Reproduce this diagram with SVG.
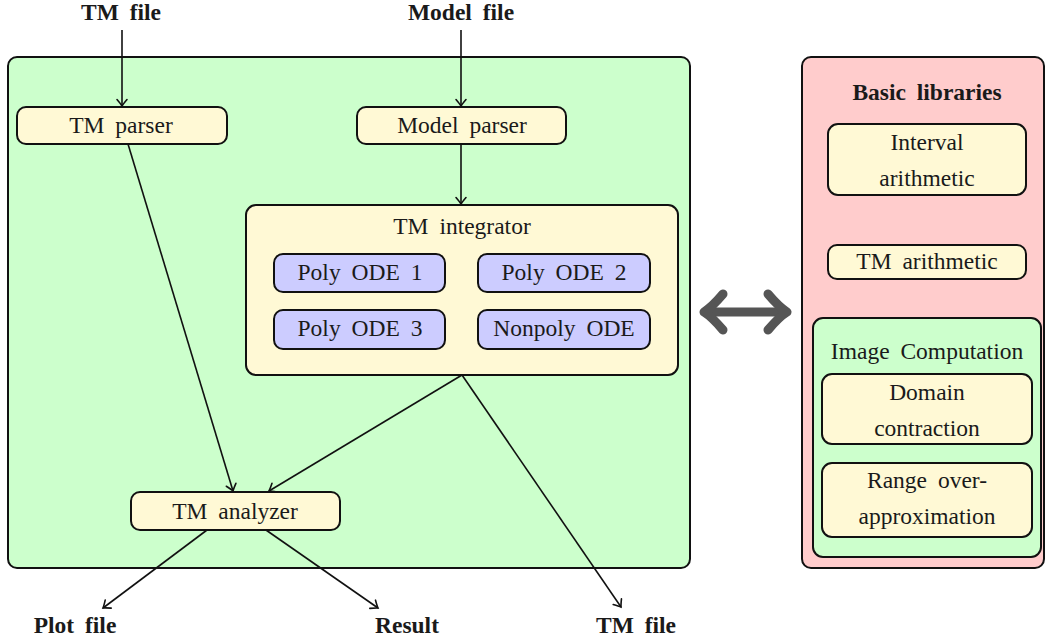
<svg xmlns="http://www.w3.org/2000/svg" width="1046" height="641" viewBox="0 0 1046 641">
<defs>
<style>
text{font-family:"Liberation Serif","DejaVu Serif",serif;font-size:23.5px;fill:#1a1a1a;text-anchor:middle;word-spacing:5px}
.b{font-weight:bold}
.box{stroke:#111;stroke-width:2}
.green{fill:#ccffcc}
.yellow{fill:#fff9d5}
.blue{fill:#ccccff}
.pink{fill:#ffcccc}
.conn{stroke:#111;stroke-width:1.6;fill:none;marker-end:url(#arr)}
</style>
<marker id="arr" markerUnits="userSpaceOnUse" markerWidth="14" markerHeight="14" viewBox="-8 -7 10 14" refX="0" refY="0" orient="auto">
<path d="M-6.5,-5 Q-2,-1.2 0,0 Q-2,1.2 -6.5,5" fill="none" stroke="#111" stroke-width="1.6" stroke-linecap="round"/>
</marker>
</defs>

<g font-family="Liberation Serif, DejaVu Serif, serif">
<g id="main-block">
<rect class="box green" x="8" y="57" width="682" height="511" rx="9"/>
</g>
<g id="libraries-block">
<rect class="box pink" x="802" y="57" width="242" height="511" rx="9"/>
<text class="b" x="927" y="100">Basic libraries</text>
</g>

<g id="tm-file-in"><text class="b" x="121" y="20">TM file</text></g>
<g id="model-file-in"><text class="b" x="461" y="20">Model file</text></g>

<g id="tm-parser">
<rect class="box yellow" x="17" y="107" width="210" height="37" rx="9"/>
<text x="121" y="133">TM parser</text>
</g>
<g id="model-parser">
<rect class="box yellow" x="357" y="107" width="209" height="37" rx="9"/>
<text x="462" y="133">Model parser</text>
</g>

<g id="tm-integrator">
<rect class="box yellow" x="246" y="205" width="432" height="170" rx="10"/>
<text x="462" y="234">TM integrator</text>
</g>
<g id="poly-ode-1">
<rect class="box blue" x="274" y="254" width="171" height="38" rx="9"/>
<text x="360" y="280">Poly ODE 1</text>
</g>
<g id="poly-ode-2">
<rect class="box blue" x="478" y="254" width="172" height="38" rx="9"/>
<text x="564" y="280">Poly ODE 2</text>
</g>
<g id="poly-ode-3">
<rect class="box blue" x="274" y="310" width="171" height="39" rx="9"/>
<text x="360" y="336">Poly ODE 3</text>
</g>
<g id="nonpoly-ode">
<rect class="box blue" x="478" y="310" width="172" height="39" rx="9"/>
<text x="564" y="336">Nonpoly ODE</text>
</g>

<g id="tm-analyzer">
<rect class="box yellow" x="131" y="492" width="209" height="38" rx="9"/>
<text x="235" y="519">TM analyzer</text>
</g>

<g id="plot-file"><text class="b" x="75" y="633">Plot file</text></g>
<g id="result"><text class="b" x="407" y="633">Result</text></g>
<g id="tm-file-out"><text class="b" x="636" y="633">TM file</text></g>

<g id="interval-arithmetic">
<rect class="box yellow" x="828" y="124" width="198" height="71" rx="10"/>
<text x="927" y="150">Interval</text>
<text x="927" y="186">arithmetic</text>
</g>
<g id="tm-arithmetic">
<rect class="box yellow" x="828" y="245" width="198" height="34" rx="9"/>
<text x="927" y="269">TM arithmetic</text>
</g>
<g id="image-computation">
<rect class="box green" x="813" y="318" width="228" height="239" rx="10"/>
<text x="927" y="359">Image Computation</text>
</g>
<g id="domain-contraction">
<rect class="box yellow" x="822" y="374" width="210" height="70" rx="10"/>
<text x="927" y="400">Domain</text>
<text x="927" y="436">contraction</text>
</g>
<g id="range-overapprox">
<rect class="box yellow" x="822" y="463" width="210" height="74" rx="10"/>
<text x="927" y="488">Range over-</text>
<text x="927" y="524">approximation</text>
</g>

<g id="connectors">
<line class="conn" x1="122" y1="30" x2="122" y2="106"/>
<line class="conn" x1="461" y1="30" x2="461" y2="106"/>
<line class="conn" x1="461" y1="144" x2="461" y2="204"/>
<line class="conn" x1="128" y1="144" x2="233" y2="491"/>
<line class="conn" x1="462" y1="375" x2="269" y2="491"/>
<line class="conn" x1="462" y1="375" x2="621" y2="607"/>
<line class="conn" x1="207" y1="530" x2="103" y2="608"/>
<line class="conn" x1="266" y1="530" x2="378" y2="608"/>
<g id="double-arrow" fill="none" stroke="#555" stroke-width="9" stroke-linecap="round" stroke-linejoin="round">
<line x1="705" y1="312" x2="786" y2="312"/>
<path d="M723,294 Q712,307 704,312 Q712,317 723,330"/>
<path d="M768,294 Q779,307 787,312 Q779,317 768,330"/>
</g>
</g>
</g>
</svg>
